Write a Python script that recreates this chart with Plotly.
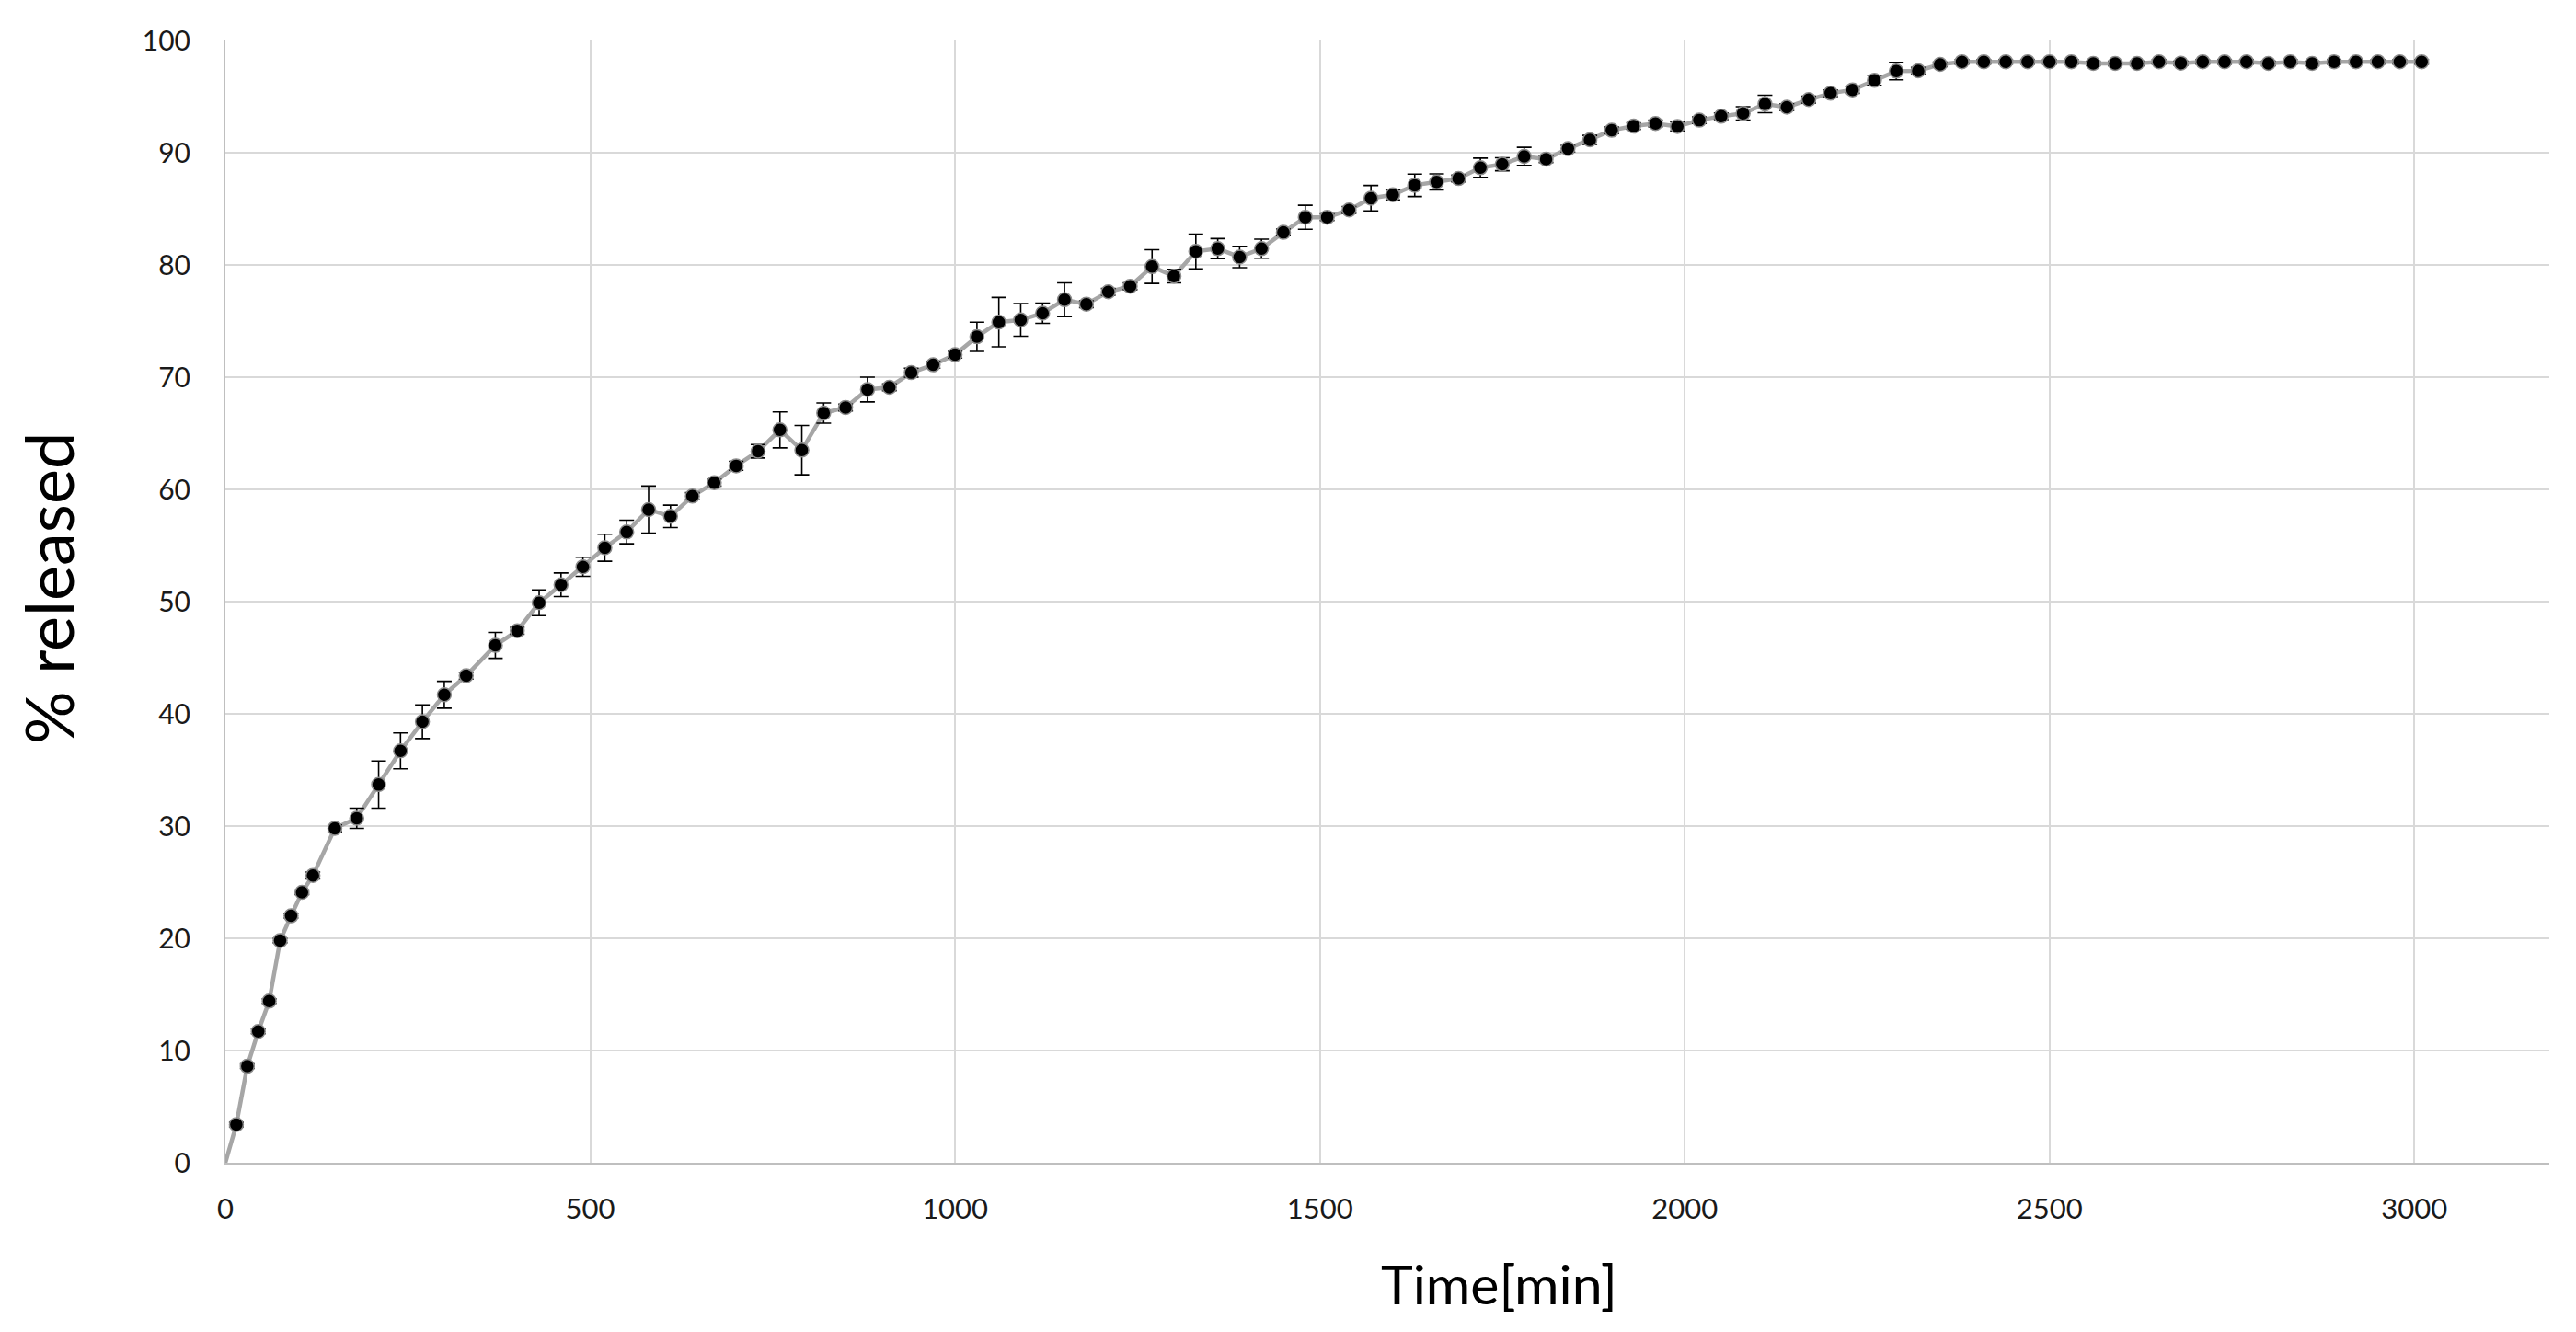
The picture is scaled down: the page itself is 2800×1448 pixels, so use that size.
import plotly.graph_objects as go

# sampling times [min]
TIME = [
    0, 15, 30, 45, 60, 75, 90, 105, 120, 150, 180, 210, 240, 270, 300, 330,
    370, 400, 430, 460, 490, 520, 550, 580, 610, 640, 670, 700, 730, 760, 790,
    820, 850, 880, 910, 940, 970, 1000, 1030, 1060, 1090, 1120, 1150, 1180,
    1210, 1240, 1270, 1300, 1330, 1360, 1390, 1420, 1450, 1480, 1510, 1540,
    1570, 1600, 1630, 1660, 1690, 1720, 1750, 1780, 1810, 1840, 1870, 1900,
    1930, 1960, 1990, 2020, 2050, 2080, 2110, 2140, 2170, 2200, 2230, 2260,
    2290, 2320, 2350, 2380, 2410, 2440, 2470, 2500, 2530, 2560, 2590, 2620,
    2650, 2680, 2710, 2740, 2770, 2800, 2830, 2860, 2890, 2920, 2950, 2980,
    3010,
]

# mean % released
RELEASED = [
    0, 3.4, 8.6, 11.7, 14.4, 19.8, 22.0, 24.1, 25.6, 29.8, 30.7, 33.7, 36.7,
    39.3, 41.7, 43.4, 46.1, 47.4, 49.9, 51.5, 53.1, 54.8, 56.2, 58.2, 57.6,
    59.4, 60.6, 62.1, 63.4, 65.3, 63.5, 66.8, 67.3, 68.9, 69.1, 70.4, 71.1,
    72.0, 73.6, 74.9, 75.1, 75.7, 76.9, 76.5, 77.6, 78.1, 79.85, 79.0, 81.2,
    81.45, 80.7, 81.45, 82.9, 84.25, 84.25, 84.9, 85.95, 86.25, 87.1, 87.4,
    87.7, 88.66, 88.97, 89.67, 89.43, 90.36, 91.15, 92.0, 92.37, 92.6, 92.34,
    92.9, 93.25, 93.5, 94.34, 94.06, 94.73, 95.3, 95.6, 96.45, 97.27, 97.3,
    97.87, 98.1, 98.1, 98.1, 98.1, 98.1, 98.1, 97.95, 97.95, 97.95, 98.1,
    97.98, 98.1, 98.1, 98.1, 97.95, 98.1, 97.95, 98.1, 98.1, 98.1, 98.1, 98.1,
]

# standard deviation
SD = [
    0, 0.2, 0.2, 0.2, 0.2, 0.2, 0.2, 0.2, 0.3, 0.3, 0.9, 2.1, 1.6, 1.5, 1.2,
    0.3, 1.15, 0.3, 1.15, 1.05, 0.85, 1.2, 1.05, 2.1, 1.0, 0.3, 0.3, 0.4, 0.6,
    1.6, 2.2, 0.9, 0.3, 1.1, 0.3, 0.4, 0.3, 0.3, 1.3, 2.2, 1.45, 0.9, 1.5, 0.3,
    0.3, 0.3, 1.5, 0.6, 1.55, 0.9, 0.95, 0.85, 0.3, 1.07, 0.3, 0.3, 1.13,
    0.45, 1.0, 0.72, 0.3, 0.86, 0.58, 0.81, 0.3, 0.3, 0.4, 0.3, 0.3, 0.3, 0.4,
    0.3, 0.3, 0.6, 0.78, 0.3, 0.3, 0.3, 0.3, 0.45, 0.78, 0.3, 0.2, 0.2, 0.2,
    0.2, 0.2, 0.2, 0.2, 0.2, 0.2, 0.2, 0.2, 0.2, 0.2, 0.2, 0.2, 0.2, 0.2, 0.2,
    0.2, 0.2, 0.2, 0.2, 0.2,
]

X_TICKS = [0, 500, 1000, 1500, 2000, 2500, 3000]
Y_TICKS = [0, 10, 20, 30, 40, 50, 60, 70, 80, 90, 100]

assert len(TIME) == len(RELEASED) == len(SD)

FONT = "Lato, 'Open Sans', sans-serif"

fig = go.Figure()

# connecting line starts at the origin
fig.add_trace(go.Scatter(
    x=TIME, y=RELEASED, mode="lines",
    line=dict(color="#a6a6a6", width=4.5),
    hoverinfo="skip", showlegend=False,
))

fig.add_trace(go.Scatter(
    x=TIME[1:], y=RELEASED[1:], mode="markers",
    marker=dict(color="black", size=15, line=dict(color="#8c8c8c", width=1.5)),
    error_y=dict(type="data", array=SD[1:], color="black", thickness=1.6, width=8),
    showlegend=False,
))

fig.add_annotation(
    text="% released", textangle=-90, showarrow=False,
    xref="paper", yref="paper", x=-0.0762, y=0.512,
    xanchor="center", yanchor="middle",
    font=dict(family=FONT, size=72, color="black"),
)
fig.add_annotation(
    text="Time[min]", showarrow=False,
    xref="x", yref="paper", x=1746, y=-0.108,
    xanchor="center", yanchor="middle",
    font=dict(family=FONT, size=59, color="black"),
)

fig.update_layout(
    width=2800, height=1448,
    margin=dict(l=245, r=29, t=44, b=184),
    paper_bgcolor="white", plot_bgcolor="white",
    font=dict(family=FONT, color="#1a1a1a"),
    xaxis=dict(
        range=[0, 3185], tickvals=X_TICKS, showgrid=True,
        gridcolor="#d9d9d9", gridwidth=2,
        showline=True, linecolor="#bfbfbf", linewidth=3,
        ticks="", tickfont=dict(size=31), ticklabelstandoff=21,
        zeroline=False,
    ),
    yaxis=dict(
        range=[0, 100], tickvals=Y_TICKS, showgrid=True,
        gridcolor="#d9d9d9", gridwidth=2,
        showline=True, linecolor="#bfbfbf", linewidth=2,
        ticks="", tickfont=dict(size=30), ticklabelstandoff=30,
        zeroline=False,
    ),
)

fig.write_html(
    "out.html",
    config={"displayModeBar": False},
    post_script="document.body.style.margin='0';",
)
